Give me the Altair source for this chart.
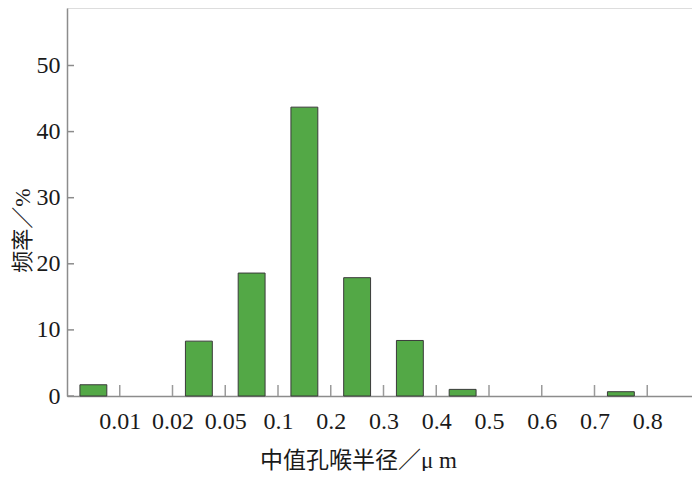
import json
import altair as alt
import pandas as pd

# data
bins = ["<0.01", "0.01-0.02", "0.02-0.05", "0.05-0.1", "0.1-0.2", "0.2-0.3",
        "0.3-0.4", "0.4-0.5", "0.5-0.6", "0.6-0.7", "0.7-0.8"]
freq = [1.7, 0, 8.3, 18.6, 43.7, 17.9, 8.4, 1.0, 0, 0, 0.65]
tick_labels = ["0.01", "0.02", "0.05", "0.1", "0.2", "0.3", "0.4", "0.5",
               "0.6", "0.7", "0.8"]
y_ticks = [0, 10, 20, 30, 40, 50]

BAR_HALF = 0.255
FONT = "Liberation Serif, Noto Sans CJK SC"
AXIS_COLOR = "#8c8c8c"

bars_df = pd.DataFrame({
    "bin": bins,
    "freq": freq,
    "x0": [i + 0.5 - BAR_HALF for i in range(len(bins))],
    "x1": [i + 0.5 + BAR_HALF for i in range(len(bins))],
})
bars_df = bars_df[bars_df["freq"] > 0]

xt_df = pd.DataFrame({"pos": list(range(1, len(tick_labels) + 1)), "label": tick_labels})
yt_df = pd.DataFrame({"v": y_ticks})

W, H = 625, 388
x_scale = alt.Scale(domain=[0, W / 52.75], nice=False, zero=False)
y_scale = alt.Scale(domain=[0, H / 6.61], nice=False)

label_arr = json.dumps([""] + tick_labels)

x_axis = alt.Axis(
    values=list(range(1, len(tick_labels) + 1)),
    labelExpr=f"{label_arr}[datum.value]",
    ticks=False, tickSize=0, grid=False,
    domainColor=AXIS_COLOR, domainWidth=1.5,
    labelFont=FONT, labelFontSize=24, labelColor="#1a1a1a",
    labelPadding=13, labelAngle=0,
    title="中值孔喉半径／μ m", titleFont=FONT, titleFontSize=23,
    titleFontWeight="normal", titleColor="#1a1a1a",
    titleX=291, titleY=64, titleAlign="center", titleBaseline="middle",
    titleAnchor="start",
)
y_axis = alt.Axis(
    values=y_ticks, ticks=False, tickSize=0, grid=False,
    domainColor=AXIS_COLOR, domainWidth=1.5,
    labelFont=FONT, labelFontSize=24, labelColor="#1a1a1a", labelPadding=7,
    title="频率／%", titleFont=FONT, titleFontSize=22, titleFontWeight="normal",
    titleColor="#1a1a1a", titleAngle=270, titleX=-45, titleY=222,
    titleAlign="center", titleBaseline="middle", titleAnchor="start",
)

bars = alt.Chart(bars_df).mark_rect(
    fill="#53a846", stroke="#3a3a3a", strokeWidth=1
).encode(
    x=alt.X("x0:Q", scale=x_scale, axis=x_axis),
    x2="x1:Q",
    y=alt.Y("freq:Q", scale=y_scale, axis=y_axis),
    y2=alt.datum(0),
)

xticks = alt.Chart(xt_df).mark_rule(color="#9a9a9a", strokeWidth=1.5).encode(
    x=alt.X("pos:Q", scale=x_scale),
    y=alt.value(H),
    y2=alt.value(H - 11),
)

yticks = alt.Chart(yt_df).mark_rule(color="#8c8c8c", strokeWidth=1.5).encode(
    y=alt.Y("v:Q", scale=y_scale),
    x=alt.value(0),
    x2=alt.value(7),
)

chart = alt.layer(bars, xticks, yticks).properties(
    width=W, height=H,
    autosize=alt.AutoSizeParams(type="none"),
    padding={"left": 59, "top": 0, "right": 0, "bottom": 75},
).configure_view(stroke=None).configure(background="white")

chart.save("out.html", embed_options={"renderer": "svg", "actions": False})
